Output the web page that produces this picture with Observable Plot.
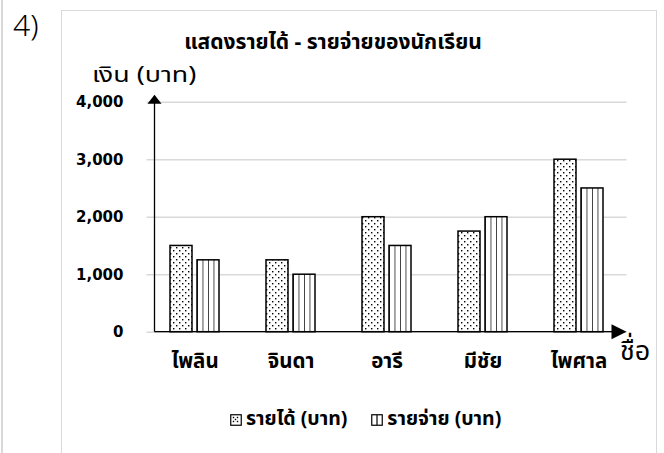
<!DOCTYPE html>
<html><head><meta charset="utf-8">
<script src="https://cdn.jsdelivr.net/npm/d3@7"></script>
<script src="https://cdn.jsdelivr.net/npm/@observablehq/plot@0.6"></script>
<style>
body{margin:0;background:#fff;}
#wrap{position:relative;width:664px;height:453px;overflow:hidden;font-family:"Noto Sans Thai","Tahoma","Loma","Garuda","Noto Sans","DejaVu Sans",sans-serif;color:#000;}
.abs{position:absolute;white-space:nowrap;line-height:1;}
#legend{display:flex;align-items:center;font-weight:bold;font-size:19.5px;}
#legend svg{margin-right:4px;}
</style></head><body>
<svg width="0" height="0" style="position:absolute">
  <defs>
    <pattern id="dots" patternUnits="userSpaceOnUse" width="6" height="6">
      <rect width="6" height="6" fill="#fff"/>
      <rect x="1" y="1" width="1.4" height="1.4" fill="#000"/>
      <rect x="4" y="4" width="1.4" height="1.4" fill="#000"/>
    </pattern>
    <pattern id="stripes" patternUnits="objectBoundingBox" width="0.25" height="1">
      <rect width="100" height="400" fill="#fff"/>
      <rect x="-0.7" y="0" width="1.4" height="400" fill="#000"/>
    </pattern>
  </defs>
</svg>
<div id="wrap">
  <div class="abs" style="left:1px;top:0;width:1.5px;height:453px;background:#d9d9d9"></div>
  <div class="abs" style="left:61px;top:10px;width:594px;height:460px;border:1.5px solid #d9d9d9"></div>
  <div class="abs" style="left:13px;top:10px;font-size:30px;font-weight:300;font-family:'Noto Sans','DejaVu Sans',sans-serif">4)</div>
  <div class="abs" id="title" style="left:333px;top:32px;transform:translateX(-50%);font-size:21px;font-weight:bold"></div>
  <div id="chart" class="abs" style="left:61px;top:60px"></div>
  <div class="abs" id="ylab" style="left:92px;top:65px;font-size:22px;line-height:22px;height:22px;transform:scaleX(1.22);transform-origin:left top"></div>
  <div class="abs" id="xlab" style="left:620px;top:338px;font-size:27px"></div>
  <div class="abs" id="legend" style="left:230px;top:410px"></div>
</div>
<script>
const title = "แสดงรายได้ - รายจ่ายของนักเรียน";
const yLabel = "เงิน (บาท)";
const xLabel = "ชื่อ";
const names = ["ไพลิน", "จินดา", "อารี", "มีชัย", "ไพศาล"];
const income = [1500, 1250, 2000, 1750, 3000];
const expense = [1250, 1000, 1500, 2000, 2500];
const seriesLabels = ["รายได้ (บาท)", "รายจ่าย (บาท)"];
const yTicks = [0, 1000, 2000, 3000, 4000];

document.getElementById("title").textContent = title;
document.getElementById("ylab").textContent = yLabel;
document.getElementById("xlab").textContent = xLabel;

const rows = names.map((n, i) => ({name: n, income: income[i], expense: expense[i]}));
const bandPad = 47 / 96;

const axisArrows = (index, scales, values, dim) => {
  const g = d3.create("svg:g");
  const x0 = dim.marginLeft + 8;
  const yb = scales.y(0);
  const yt = scales.y(4000);
  const xr = dim.width - dim.marginRight;
  g.append("line").attr("x1", x0).attr("x2", x0).attr("y1", yb).attr("y2", yt).attr("stroke", "#000").attr("stroke-width", 1.3);
  g.append("path").attr("d", `M${x0},${yt - 7}L${x0 - 7},${yt + 2}L${x0 + 7},${yt + 2}Z`).attr("fill", "#000");
  g.append("line").attr("x1", x0).attr("x2", xr - 14).attr("y1", yb).attr("y2", yb).attr("stroke", "#000").attr("stroke-width", 1.3);
  g.append("path").attr("d", `M${xr},${yb}L${xr - 15},${yb - 7.5}L${xr - 15},${yb + 7.5}Z`).attr("fill", "#000");
  return g.node();
};

const chart = Plot.plot({
  width: 596,
  height: 320,
  marginLeft: 85.5,
  marginRight: 30.5,
  marginTop: 41.7,
  marginBottom: 48.3,
  style: {background: "transparent", fontFamily: "inherit", color: "#000", overflow: "visible"},
  x: {domain: names, paddingInner: bandPad, paddingOuter: bandPad / 2, label: null},
  y: {domain: [0, 4000], label: null},
  marks: [
    Plot.gridY(yTicks, {stroke: "#d9d9d9", strokeOpacity: 1, strokeWidth: 1.5}),
    Plot.axisY(yTicks, {tickSize: 0, tickPadding: 23.5, tickFormat: d3.format(","), fontSize: 15, fontWeight: "bold", fontFamily: "'DejaVu Sans',sans-serif", label: null}),
    Plot.axisX({tickSize: 0, tickPadding: 21, fontSize: 20.5, fontWeight: "bold", label: null}),
    Plot.barY(rows, {x: "name", y: "income", fill: "url(#dots)", stroke: "#000", strokeWidth: 1.5, insetRight: 27}),
    Plot.barY(rows, {x: "name", y: "expense", fill: "url(#stripes)", stroke: "#000", strokeWidth: 1.5, insetLeft: 27}),
    axisArrows
  ]
});
document.getElementById("chart").appendChild(chart);

const legend = d3.select("#legend");
seriesLabels.forEach((lab, i) => {
  const item = legend.append("span").style("display", "flex").style("align-items", "center").style("margin-right", i === 0 ? "24px" : "0");
  const s = item.append("svg").attr("width", 12).attr("height", 12);
  s.append("rect").attr("x", 0.75).attr("y", 0.75).attr("width", 10.5).attr("height", 10.5).attr("fill", "#fff").attr("stroke", "#000").attr("stroke-width", 1.2);
  if (i === 0) {
    [[3.5, 3.5], [7.5, 3.5], [5.5, 5.5], [3.5, 7.5], [7.5, 7.5]].forEach(([cx, cy]) =>
      s.append("rect").attr("x", cx - 0.7).attr("y", cy - 0.7).attr("width", 1.4).attr("height", 1.4).attr("fill", "#000"));
  } else {
    s.append("line").attr("x1", 6).attr("x2", 6).attr("y1", 1).attr("y2", 11).attr("stroke", "#000").attr("stroke-width", 1.2);
  }
  item.append("span").text(lab);
});
</script>
</body></html>
